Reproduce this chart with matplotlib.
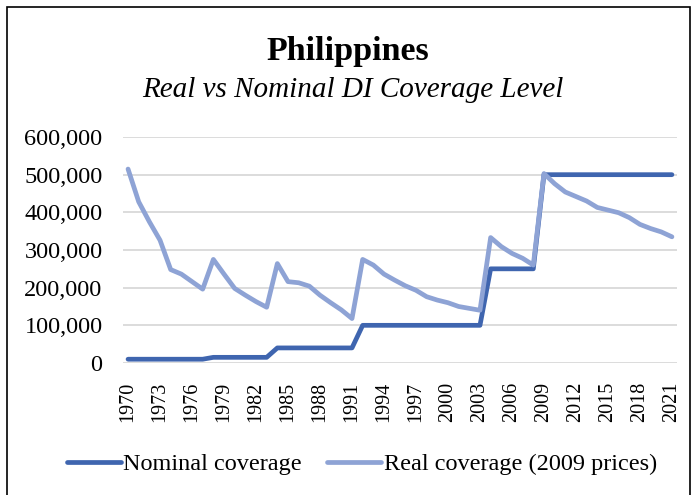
import matplotlib
matplotlib.use("Agg")
import matplotlib.pyplot as plt
from matplotlib.ticker import FuncFormatter
from matplotlib.patches import Rectangle

years = list(range(1970, 2022))
nominal = ([10000] * 8 + [15000] * 6 + [40000] * 8 + [100000] * 12
           + [250000] * 5 + [500000] * 13)
real = [515000, 428000, 375000, 326000, 248000, 236000, 216000, 196000,
        275000, 236000, 198000, 180000, 163000, 148000, 264000, 216000,
        213000, 204000, 180000, 160000, 141000, 118000, 275000, 260000,
        236000, 220000, 205000, 193000, 176000, 167000, 160000, 150000,
        145000, 140000, 333000, 309000, 291000, 278000, 260000, 503000,
        476000, 454000, 442000, 430000, 413000, 406000, 399000, 386000,
        368000, 357000, 348000, 335000]
xtick_years = list(range(1970, 2022, 3))
yticks = [0, 100000, 200000, 300000, 400000, 500000, 600000]

plt.rcParams['font.family'] = ['Liberation Serif', 'DejaVu Serif']

fig = plt.figure(figsize=(6.96, 4.95), dpi=100)
ax = fig.add_axes([0.1763, 0.2667, 0.7968, 0.4565])

ax.plot(years, nominal, color='#3F65AF', lw=3.4, solid_capstyle='round',
        label='Nominal coverage', zorder=3)
ax.plot(years, real, color='#8EA3D5', lw=3.4, solid_capstyle='round',
        label='Real coverage (2009 prices)', zorder=4)

ax.set_xlim(1969.5, 2021.5)
ax.set_ylim(0, 600000)
ax.set_yticks(yticks)
ax.yaxis.set_major_formatter(FuncFormatter(lambda v, p: f"{int(v):,}"))
ax.set_xticks(xtick_years)
ax.set_xticklabels([str(y) for y in xtick_years], rotation=90)
ax.tick_params(axis='both', length=0, colors='black')
ax.tick_params(axis='y', pad=14.5, labelsize=17.5)
ax.tick_params(axis='x', pad=13.5, labelsize=14.5)
ax.grid(axis='y', color='#D9D9D9', lw=1.3)
ax.set_axisbelow(True)
for s in ax.spines.values():
    s.set_visible(False)

fig.text(0.5, 1 - 60 / 495, 'Philippines', ha='center', va='baseline',
         fontsize=24.5, fontweight='bold')
fig.text(0.507, 1 - 97 / 495, 'Real vs Nominal DI Coverage Level', ha='center',
         va='baseline', fontsize=21, style='italic')

fig.legend(loc='center', bbox_to_anchor=(0.52, 0.062), ncol=2, frameon=False,
           fontsize=17.5, handlelength=2.2, handletextpad=0.12,
           columnspacing=1.03, borderaxespad=0)

fig.patches.append(Rectangle((7/696, -0.01), (690-7)/696, 1 - 7/495 + 0.01,
                             transform=fig.transFigure, fill=False,
                             edgecolor='black', lw=1.2))

fig.savefig('out.png', dpi=100)
